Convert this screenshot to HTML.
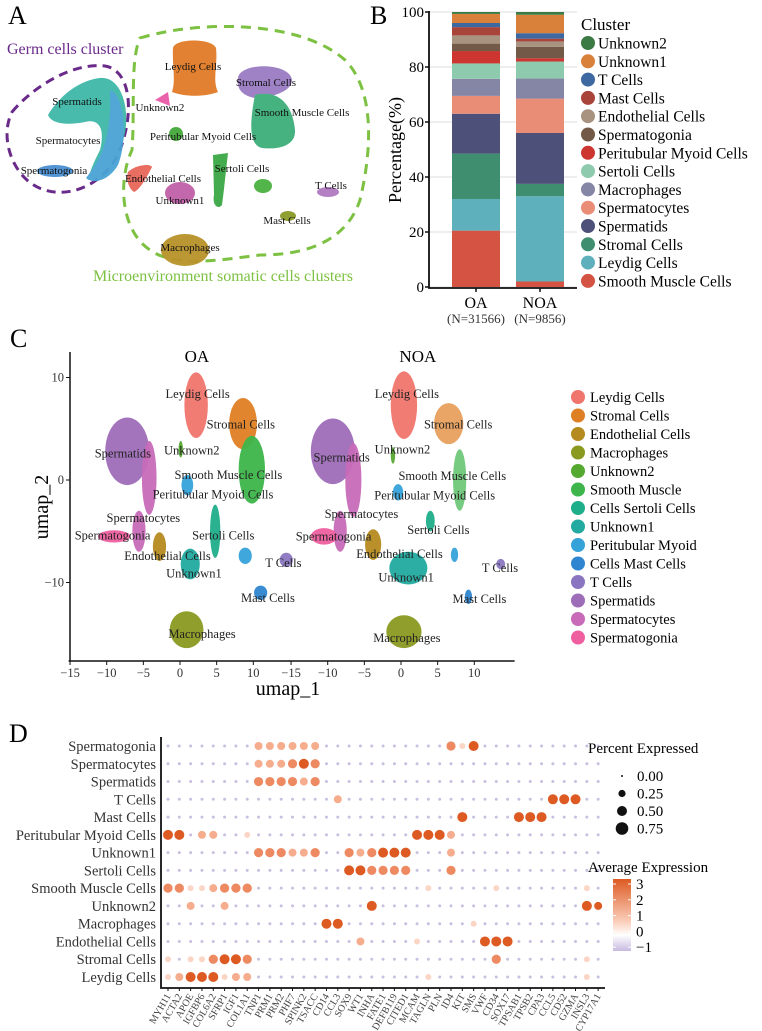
<!DOCTYPE html>
<html><head><meta charset="utf-8"><style>
html,body{margin:0;padding:0;background:#fff;}
svg{display:block;font-family:"Liberation Serif",serif;}
</style></head><body>
<svg id="fig" width="762" height="1031" viewBox="0 0 762 1031" xmlns="http://www.w3.org/2000/svg">
<rect width="762" height="1031" fill="#fff"/>
<g id="panelA">
<text x="8" y="24" font-size="26">A</text>
<text x="7" y="54" font-size="16" fill="#6a2a8a">Germ cells cluster</text>
<path d="M12,112 C30,90 70,62 105,66 C130,70 135,110 120,150 C105,185 70,198 45,190 C15,182 -2,140 12,112 Z" fill="none" stroke="#6a2a8a" stroke-width="3" stroke-dasharray="9,6"/>
<path d="M140,38 C200,20 300,20 345,60 C375,90 372,150 360,200 C345,245 300,255 260,255 C220,260 175,268 150,250 C120,230 118,180 132,150 C135,110 130,60 140,38 Z" fill="none" stroke="#7dc142" stroke-width="3" stroke-dasharray="10,7"/>
<g opacity="0.95">
<path d="M48,115 C60,95 80,80 100,78 C118,76 128,100 126,125 C124,150 110,170 95,180 C85,182 90,170 100,150 C105,130 100,118 85,122 C70,125 52,125 48,115 Z" fill="#3fb8a8"/>
<path d="M110,90 C125,95 128,140 118,165 C108,182 92,184 86,178 C100,160 112,140 110,90 Z" fill="#4aa3d5"/>
<ellipse cx="55" cy="171" rx="18" ry="6" fill="#4a8fd0"/>
<path d="M173,48 C175,38 212,38 216,48 C218,65 212,80 218,92 C205,97 185,97 172,92 C176,80 172,65 173,48 Z" fill="#e07b27"/>
<path d="M238,78 C240,62 290,62 292,80 C292,92 270,98 255,98 C242,96 236,88 238,78 Z" fill="#9a7cc4"/>
<path d="M255,95 C275,90 292,100 295,130 C296,145 280,150 262,148 C248,145 250,120 255,95 Z" fill="#3dae7a"/>
<ellipse cx="176" cy="134" rx="7" ry="7" fill="#45a83a"/>
<path d="M128,172 C135,165 150,163 152,167 C148,175 140,190 134,192 C128,188 126,178 128,172 Z" fill="#e8675a"/>
<ellipse cx="180" cy="193" rx="15" ry="11" fill="#c060a8"/>
<path d="M213,155 L228,153 C226,170 224,190 222,205 C218,210 212,205 214,195 Z" fill="#3aa845"/>
<ellipse cx="263" cy="186" rx="9" ry="7" fill="#4ab040"/>
<ellipse cx="328" cy="192" rx="11" ry="5" fill="#b07ac0"/>
<ellipse cx="288" cy="216" rx="8" ry="5" fill="#8a9a28"/>
<ellipse cx="185" cy="250" rx="24" ry="16" fill="#b8922a"/>
<path d="M155,100 L168,92 L170,106 Z" fill="#ea5aa8"/>
</g>
<g font-size="11" fill="#111" text-anchor="middle">
<text x="193" y="70">Leydig Cells</text>
<text x="266" y="86">Stromal Cells</text>
<text x="302" y="116">Smooth Muscle Cells</text>
<text x="160" y="111">Unknown2</text>
<text x="203" y="140">Peritubular Myoid Cells</text>
<text x="77" y="105">Spermatids</text>
<text x="68" y="144">Spermatocytes</text>
<text x="54" y="174">Spermatogonia</text>
<text x="242" y="172">Sertoli Cells</text>
<text x="163" y="182">Endothelial Cells</text>
<text x="180" y="204">Unknown1</text>
<text x="331" y="189">T Cells</text>
<text x="287" y="224">Mast Cells</text>
<text x="190" y="251">Macrophages</text>
</g>
<text x="93" y="281" font-size="16" fill="#7dc142">Microenvironment somatic cells clusters</text>
</g>
<g id="panelB"></g>
<g id="panelC"></g>
<g id="panelD"></g>
</svg>
<script>
const NS="http://www.w3.org/2000/svg";
function mk(parent,tag,attrs,text){const e=document.createElementNS(NS,tag);for(const k in attrs)e.setAttribute(k,attrs[k]);if(text!==undefined)e.textContent=text;parent.appendChild(e);return e;}

/* ---------- Panel B data ---------- */
const bGroups=["OA","NOA"];
const bGroupN=["(N=31566)","(N=9856)"];
const bClusters=["Smooth Muscle Cells","Leydig Cells","Stromal Cells","Spermatids","Spermatocytes","Macrophages","Sertoli Cells","Peritubular Myoid Cells","Spermatogonia","Endothelial Cells","Mast Cells","T Cells","Unknown1","Unknown2"];
const bColors=["#d55343","#5fb0bd","#3f8e70","#4d5078","#e98d77","#8585a5","#8ecbae","#cc3530","#735a48","#a89280","#a8443a","#3e68a0","#d9813a","#3c7a45"];
const bOA=[20.5,11.5,16.5,14.5,6.5,6.2,5.6,4.5,2.7,3.0,3.0,1.5,3.3,0.7];
const bNOA=[2.0,31.0,4.5,18.5,12.5,7.3,6.2,1.2,4.1,2.0,1.0,2.0,6.7,1.0];
const bTicks=[0,20,40,60,80,100];
(function(){
 const g=document.getElementById('panelB');
 const y=v=>287-v*2.75;
 const bx=[452,516], bw=48;
 mk(g,'text',{x:370,y:24,'font-size':26,},'B');
 bTicks.forEach(t=>{
  const gl=mk(g,'line',{x1:429,x2:577,y1:y(t),y2:y(t),stroke:'#ddd','stroke-width':1});
  
  const tl=mk(g,'text',{x:424,y:y(t)+5,'font-size':15,'text-anchor':'end'},String(t));
  
  mk(g,'line',{x1:425,x2:429,y1:y(t),y2:y(t),stroke:'#111','stroke-width':1.5});
 });
 [bOA,bNOA].forEach((vals,gi)=>{
  let acc=0;
  vals.forEach((v,ci)=>{
   const r=mk(g,'rect',{x:bx[gi],y:y(acc+v),width:bw,height:v*2.75,fill:bColors[ci]});
   
   
   acc+=v;
  });
  const l=mk(g,'text',{x:bx[gi]+bw/2,y:308,'font-size':16,'text-anchor':'middle'},bGroups[gi]);
  
  const n=mk(g,'text',{x:bx[gi]+bw/2,y:323,'font-size':13,'text-anchor':'middle',fill:'#333'},bGroupN[gi]);
  
  mk(g,'line',{x1:bx[gi]+bw/2,x2:bx[gi]+bw/2,y1:288,y2:292,stroke:'#111','stroke-width':1.5});
 });
 mk(g,'polyline',{points:'429,11 429,288 577,288',fill:'none',stroke:'#111','stroke-width':1.8});
 const yt=mk(g,'text',{x:0,y:0,'font-size':18,'text-anchor':'middle',transform:'translate(401,150) rotate(-90)'},'Percentage(%)');
 
 const lt=mk(g,'text',{x:581,y:30,'font-size':17},'Cluster');
 
 for(let i=0;i<14;i++){
  const ci=13-i, yy=43+i*18.3;
  const c=mk(g,'circle',{cx:588,cy:yy,r:7,fill:bColors[ci]});
  
  const t=mk(g,'text',{x:598,y:yy+5.5,'font-size':15.5},bClusters[ci]);
  
 }
})();

/* ---------- Panel C data (UMAP cluster blobs, data units) ---------- */
const cNames=["Leydig Cells","Stromal Cells","Smooth Muscle Cells","Spermatids","Spermatocytes","Spermatocytes","Spermatogonia","Endothelial Cells","Unknown2","Peritubular Myoid Cells","Sertoli Cells","Unknown1","T Cells","Mast Cells","Mast Cells B","Macrophages"];
const cColors=["#f0756d","#df7f23","#3db54a","#9e6db8","#c86ab8","#c86ab8","#ef5fa0","#b58a1f","#55a830","#35a2d9","#1fae8a","#22aaa0","#8a76c0","#2f86d0","#35a2d9","#8a9a20"];
const oaX=[2.2,8.6,9.8,-7.2,-4.2,-5.6,-9.0,-2.8,0.1,1.0,4.8,1.4,14.5,11.0,8.9,0.9];
const oaY=[7.3,5.5,1.0,2.8,0.2,-5.0,-5.5,-6.5,3.0,-0.5,-5.0,-8.2,-7.8,-11.0,-7.4,-14.6];
const oaRX=[1.6,1.9,1.8,3.0,1.0,0.9,2.2,0.9,0.3,0.8,0.7,1.3,0.9,0.9,0.9,2.3];
const oaRY=[3.2,2.5,3.3,3.3,3.6,2.0,0.6,1.4,0.8,1.0,2.6,1.5,0.7,0.7,0.8,1.8];
const noaX=[0.4,6.5,8.0,-9.3,-6.5,-8.3,-10.5,-3.8,-1.1,-0.4,4.0,1.0,13.6,9.2,7.3,0.4];
const noaY=[7.3,5.5,0.0,2.8,0.0,-5.0,-5.5,-6.3,2.4,-1.2,-4.0,-8.6,-8.2,-11.4,-7.3,-14.8];
const noaRX=[1.8,2.0,0.9,3.0,1.1,0.9,1.8,1.1,0.3,0.7,0.6,2.6,0.6,0.5,0.5,2.4];
const noaRY=[3.3,2.0,3.0,3.2,3.6,2.0,0.8,1.5,0.8,0.8,1.0,1.6,0.5,0.7,0.7,1.6];
const cXTicks=[-15,-10,-5,0,5,10];
const cYTicks=[10,0,-10];
const cLabels=["Leydig Cells","Stromal Cells","Unknown2","Spermatids","Smooth Muscle Cells","Peritubular Myoid Cells","Spermatocytes","Spermatogonia","Sertoli Cells","Endothelial Cells","T Cells","Unknown1","Mast Cells","Macrophages"];
const oaLabX=[2.4,8.3,1.6,-7.8,6.6,4.5,-5.0,-9.2,5.9,-1.7,14.1,1.9,12.0,3.0];
const oaLabY=[8.4,5.4,2.9,2.6,0.5,-1.4,-3.7,-5.4,-5.4,-7.4,-8.1,-9.1,-11.5,-15.0];
const noaLabX=[0.8,7.8,0.2,-8.1,7.0,4.6,-5.4,-9.2,5.1,-0.2,13.5,0.7,10.7,0.8];
const noaLabY=[8.4,5.4,3.0,2.2,0.4,-1.5,-3.3,-5.5,-4.9,-7.2,-8.6,-9.5,-11.6,-15.4];
const cLegendNames=["Leydig Cells","Stromal Cells","Endothelial Cells","Macrophages","Unknown2","Smooth Muscle","Cells Sertoli Cells","Unknown1","Peritubular Myoid","Cells Mast Cells","T Cells","Spermatids","Spermatocytes","Spermatogonia"];
const cLegendColors=["#f0756d","#df7f23","#b58a1f","#8a9a20","#55a830","#3db54a","#1fae8a","#22aaa0","#35a2d9","#2f86d0","#8a76c0","#9e6db8","#c86ab8","#ef5fa0"];
(function(){
 const g=document.getElementById('panelC');
 const ky=10.25, y0=480;
 const sy=v=>y0-v*ky;
 const panels=[{name:'OA',x0:180,X:oaX,Y:oaY,RX:oaRX,RY:oaRY,LX:oaLabX,LY:oaLabY},{name:'NOA',x0:401,X:noaX,Y:noaY,RX:noaRX,RY:noaRY,LX:noaLabX,LY:noaLabY}];
 const kx=7.33;
 mk(g,'text',{x:10,y:347,'font-size':26,},'C');
 panels.forEach((p,pi)=>{
  const sx=v=>p.x0+v*kx;
  const t=mk(g,'text',{x:sx(2.3),y:362,'font-size':17,'text-anchor':'middle'},p.name);
  
  p.X.forEach((cx,i)=>{
   const e=mk(g,'ellipse',{cx:sx(cx),cy:sy(p.Y[i]),rx:p.RX[i]*kx,ry:p.RY[i]*ky,fill:cColors[i],opacity:(pi===1&&(i===1||i===2))?0.7:0.95});
   
   
  });
  cLabels.forEach((lab,i)=>{
   const tx=mk(g,'text',{x:sx(p.LX[i]),y:sy(p.LY[i])+4,'font-size':12.5,'text-anchor':'middle',fill:'#222'},lab);
   
  });
  cXTicks.forEach(v=>{
   mk(g,'line',{x1:sx(v),x2:sx(v),y1:661,y2:665,stroke:'#111'});
   const tl=mk(g,'text',{x:sx(v),y:677,'font-size':12.5,'text-anchor':'middle',fill:'#333'},String(v).replace('-','\u2212'));
   
  });
  const xe=pi===0?sx(15):sx(15.5);
  mk(g,'line',{x1:sx(-15.2),x2:xe,y1:661,y2:661,stroke:'#111','stroke-width':1.5});
 });
 mk(g,'line',{x1:70,x2:70,y1:352,y2:661,stroke:'#111','stroke-width':1.5});
 cYTicks.forEach(v=>{
  mk(g,'line',{x1:66,x2:70,y1:sy(v),y2:sy(v),stroke:'#111'});
  const tl=mk(g,'text',{x:64,y:sy(v)+4,'font-size':12.5,'text-anchor':'end',fill:'#333'},String(v).replace('-','\u2212'));
  
 });
 const yt=mk(g,'text',{x:0,y:0,'font-size':20,'text-anchor':'middle',transform:'translate(48,507) rotate(-90)'},'umap_2');
 
 const xt=mk(g,'text',{x:288,y:695,'font-size':20,'text-anchor':'middle'},'umap_1');
 
 cLegendNames.forEach((n,i)=>{
  const yy=397+i*18.5;
  const c=mk(g,'circle',{cx:578,cy:yy,r:7,fill:cLegendColors[i]});
  
  const t=mk(g,'text',{x:590,y:yy+5,'font-size':14.5},n);
  
 });
})();

/* ---------- Panel D data ---------- */
const dGenes=["MYH11","ACTA2","APOE","IGFBP6","COL6A2","SFRP1","IGF1","COL1A1","TNP1","PRM1","PRM2","PHF7","SPINK2","TSACC","CD14","CCL3","SOX9","WT1","INHA","FATE1","DEFB119","CITED1","MCAM","TAGLN","PLN","ID4","KIT","SMS","VWF","CD34","SOX17","TPSAB1","TPSB2","CPA3","CCL5","CD52","GZMA","INSL3","CYP17A1"];
const dRows=["Spermatogonia","Spermatocytes","Spermatids","T Cells","Mast Cells","Peritubular Myoid Cells","Unknown1","Sertoli Cells","Smooth Muscle Cells","Unknown2","Macrophages","Endothelial Cells","Stromal Cells","Leydig Cells"];
/* per row: [geneIndex, level] pairs for non-baseline dots (level 1..4) */
const dHigh=[
 [[8,2],[9,2],[10,2],[11,2],[12,2],[13,2],[25,3],[26,1],[27,4]],
 [[8,2],[9,2],[10,2],[11,3],[12,4],[13,3]],
 [[8,3],[9,3],[10,3],[11,3],[12,2],[13,3]],
 [[15,2],[34,4],[35,4],[36,4]],
 [[26,4],[31,4],[32,4],[33,4]],
 [[0,4],[1,4],[3,2],[4,2],[7,1],[22,4],[23,4],[24,4],[25,2]],
 [[8,3],[9,3],[10,3],[11,2],[12,2],[13,3],[16,3],[17,2],[18,3],[19,4],[20,4],[21,4],[25,2]],
 [[16,4],[17,4],[18,3],[19,3],[20,3],[21,3],[25,3]],
 [[0,3],[1,3],[2,1],[3,1],[4,2],[5,3],[6,3],[7,3],[23,1],[29,1],[37,1]],
 [[2,2],[5,2],[18,4],[37,4],[38,4]],
 [[14,4],[15,4],[27,1]],
 [[17,2],[22,1],[28,4],[29,4],[30,4]],
 [[0,1],[2,1],[3,1],[4,3],[5,4],[6,4],[7,3],[29,3],[37,1]],
 [[0,1],[1,2],[2,4],[3,4],[4,4],[5,1],[6,2],[7,2],[23,1],[37,1]]
];
const dColors=["#cbbfe0","#fbd6c6","#f6ad8e","#ee8a62","#dd5a22"];
const dRadii=[1.5,3,4,4.6,5];
const pctVals=["0.00","0.25","0.50","0.75"];
const pctR=[1,3.6,5,6.3];
const exprTicks=[3,2,1,0,-1];
(function(){
 const g=document.getElementById('panelD');
 const sx=i=>168+i*11.32, sy=j=>746+j*17.77;
 mk(g,'text',{x:9,y:742,'font-size':26,},'D');
 dRows.forEach((r,j)=>{
  const t=mk(g,'text',{x:156,y:sy(j)+5,'font-size':14.5,'text-anchor':'end',fill:'#333'},r);
  
  const lvls=new Array(dGenes.length).fill(0);
  dHigh[j].forEach(([gi,lv])=>{lvls[gi]=lv;});
  for(let i=0;i<dGenes.length;i++){
   const lv=lvls[i];
   const c=mk(g,'circle',{cx:sx(i),cy:sy(j),r:dRadii[lv]*(j===9&&i===38?0.8:1),fill:dColors[lv]});
   
  }
 });
 mk(g,'polyline',{points:'161,737 161,988 605,988',fill:'none',stroke:'#111','stroke-width':1.8});
 dGenes.forEach((gn,i)=>{
  mk(g,'line',{x1:sx(i),x2:sx(i),y1:988,y2:991,stroke:'#111'});
  const t=mk(g,'text',{x:0,y:0,'font-size':10,'text-anchor':'end',fill:'#444',transform:`translate(${sx(i)+3},${996}) rotate(-60)`},gn);
  
 });
 const pt=mk(g,'text',{x:588,y:753,'font-size':15},'Percent Expressed');
 
 pctVals.forEach((v,i)=>{
  const yy=776+i*17.5;
  const c=mk(g,'circle',{cx:622,cy:yy,r:pctR[i],fill:'#111'});
  
  const t=mk(g,'text',{x:637,y:yy+5,'font-size':15},v);
  
 });
 const at=mk(g,'text',{x:588,y:872,'font-size':15},'Average Expression');
 
 const defs=mk(g,'defs',{});
 const lg=mk(defs,'linearGradient',{id:'expr',x1:0,y1:0,x2:0,y2:1});
 mk(lg,'stop',{offset:'0','stop-color':'#dd5a22'});
 mk(lg,'stop',{offset:'0.6','stop-color':'#fbd0bd'});
 mk(lg,'stop',{offset:'0.78','stop-color':'#ffffff'});
 mk(lg,'stop',{offset:'1','stop-color':'#c7b9e0'});
 const cb=mk(g,'rect',{x:613,y:879,width:18,height:72,fill:'url(#expr)'});
 
 exprTicks.forEach(v=>{
  const yy=884+(3-v)*15.8;
  mk(g,'line',{x1:613,x2:616,y1:yy,y2:yy,stroke:'#fff'});
  mk(g,'line',{x1:628,x2:631,y1:yy,y2:yy,stroke:'#fff'});
  const t=mk(g,'text',{x:636,y:yy+5,'font-size':15},v<0?'\u22121':String(v));
  
 });
})();
</script>
</body></html>
